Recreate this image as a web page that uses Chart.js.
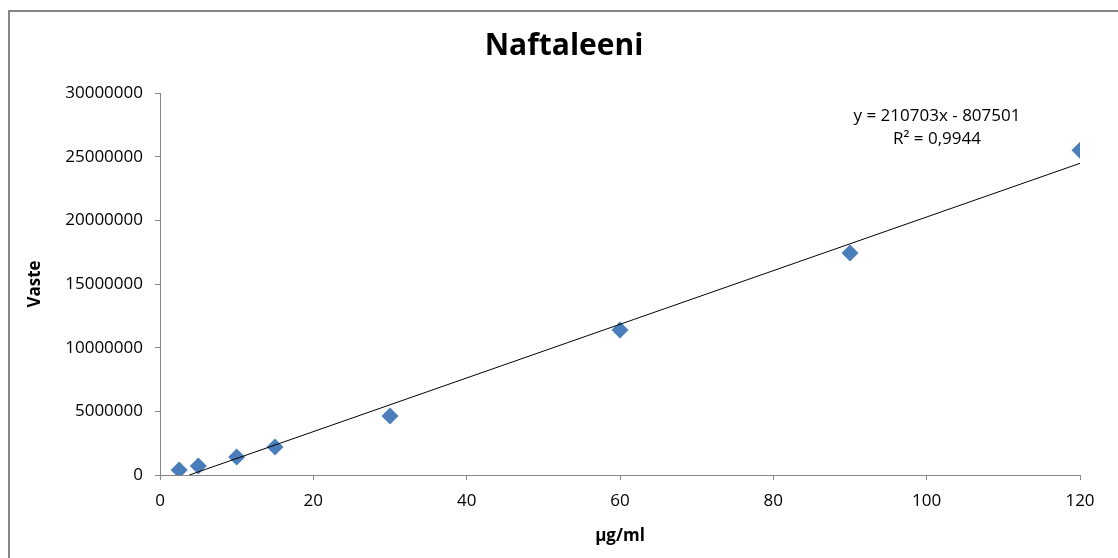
<!DOCTYPE html>
<html>
<head>
<meta charset="utf-8">
<script src="https://cdn.jsdelivr.net/npm/chart.js@4/dist/chart.umd.min.js"></script>
<style>
  html, body { margin: 0; padding: 0; background: #fff; overflow: hidden; }
  #frame {
    position: absolute; left: 8px; top: 10px; width: 1200px; height: 600px;
    border-left: 2px solid #868686; border-top: 2px solid #868686;
  }
  #wrap { position: absolute; left: 0; top: 0; width: 1118px; height: 558px; }
</style>
</head>
<body>
<div id="frame"></div>
<div id="wrap"><canvas id="chart" width="1118" height="558"></canvas></div>
<script>
// concentrations (µg/ml) and responses
const concentrations = [2.5, 5, 10, 15, 30, 60, 90, 120];
const responses = [390000, 710000, 1410000, 2200000, 4630000, 11390000, 17440000, 25500000];

// linear trendline as printed on the chart
const slope = 210703;
const intercept = -807501;
const trendLabel = ['y = 210703x - 807501', 'R² = 0,9944'];

const chartTitle = 'Naftaleeni';
const xTitle = 'µg/ml';
const yTitle = 'Vaste';

const FONT = "'Open Sans', 'Noto Sans', sans-serif";

// trendline runs from where it crosses y = 0 up to the last x
const xStart = -intercept / slope;
const xEnd = concentrations[concentrations.length - 1];
const trendData = [xStart, xEnd].map(x => ({ x: x, y: slope * x + intercept }));

const points = concentrations.map((x, i) => ({ x: x, y: responses[i] }));

// title and equation text drawn on top
const textPlugin = {
    id: 'texts',
    afterDraw(chart) {
        const ctx = chart.ctx;
        ctx.save();
        ctx.fillStyle = '#000';
        ctx.textAlign = 'center';
        ctx.textBaseline = 'middle';
        ctx.font = 'bold 30px ' + FONT;
        ctx.fillText(chartTitle, 564, 46);
        ctx.font = '17px ' + FONT;
        ctx.fillText(trendLabel[0], 937, 116);
        ctx.fillText(trendLabel[1], 937, 139);
        ctx.restore();
    }
};

new Chart(document.getElementById('chart'), {
    type: 'scatter',
    data: {
        datasets: [
            {
                type: 'line',
                label: 'trend',
                data: trendData,
                borderColor: '#000',
                borderWidth: 1,
                pointRadius: 0,
                fill: false,
                order: 0
            },
            {
                label: 'Naftaleeni',
                data: points,
                pointStyle: 'rectRot',
                pointRadius: 8.5,
                pointBackgroundColor: '#4A7EBB',
                pointBorderColor: '#4A7EBB',
                pointBorderWidth: 0,
                order: 1
            }
        ]
    },
    options: {
        responsive: false,
        animation: false,
        layout: { padding: { top: 93, right: 38, left: 0, bottom: 0 } },
        plugins: {
            legend: { display: false },
            tooltip: { enabled: false },
            title: { display: false }
        },
        scales: {
            x: {
                type: 'linear',
                min: 0,
                max: 120,
                ticks: { stepSize: 20, padding: 11, color: '#000', font: { family: FONT, size: 17 } },
                grid: { drawOnChartArea: false, drawTicks: true, tickLength: 5, color: '#868686' },
                border: { color: '#868686', width: 1 },
                title: { display: true, text: xTitle, color: '#000', font: { family: FONT, size: 17, weight: 'bold' }, padding: { top: 0, bottom: 12 } },
                afterFit(scale) { scale.height = 83; }
            },
            y: {
                min: 0,
                max: 30000000,
                ticks: {
                    stepSize: 5000000, padding: 12, color: '#000',
                    font: { family: FONT, size: 17 },
                    callback: v => String(v)
                },
                grid: { drawOnChartArea: false, drawTicks: true, tickLength: 5, color: '#868686' },
                border: { color: '#868686', width: 1 },
                title: { display: true, text: yTitle, color: '#000', font: { family: FONT, size: 17, weight: 'bold' }, padding: { top: 25, bottom: 0 } },
                afterFit(scale) { scale.width = 160; }
            }
        }
    },
    plugins: [textPlugin]
});
</script>
</body>
</html>
